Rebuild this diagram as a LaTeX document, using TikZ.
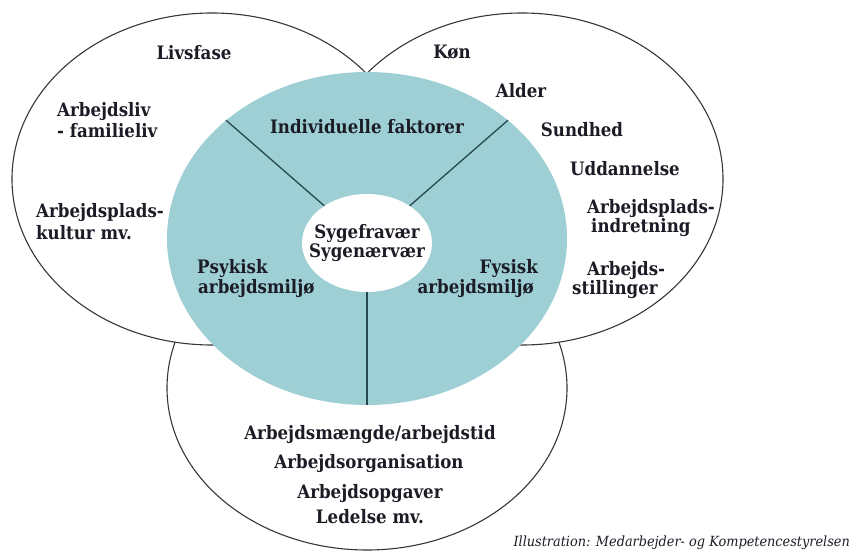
\documentclass[tikz,border=0pt]{standalone}
\usepackage{fontspec}
\usetikzlibrary{shapes.geometric}
\newfontfamily\lblfont{DejaVu Serif}[FakeStretch=0.9]
\newfontfamily\capfont{DejaVu Serif}[FakeStretch=0.92]
\definecolor{teal1}{RGB}{157,207,212}
\definecolor{divc}{RGB}{38,72,78}
\definecolor{outc}{RGB}{55,55,55}
\definecolor{txt}{RGB}{28,28,38}
\begin{document}
\begin{tikzpicture}[x=1pt,y=-1pt,
  outer/.style={draw=outc, fill=white, line width=1.1pt},
  divline/.style={draw=divc, line width=1.3pt},
  lbl/.style={font=\lblfont\bfseries\fontsize{18.5}{20}\selectfont, text=txt, inner sep=0pt},
  caption/.style={font=\capfont\itshape\fontsize{14}{16}\selectfont, text=txt, inner sep=0pt}]
\useasboundingbox (0,0) rectangle (853,553);
% outer ellipses (bottom first, so its upper part is hidden)
\draw[outer] (367,388) ellipse [x radius=200pt, y radius=162pt];
\draw[outer] (212,179) ellipse [x radius=200pt, y radius=166pt];
\draw[outer] (522,179) ellipse [x radius=201pt, y radius=166pt];
% teal ring and white core
\node[ellipse, fill=teal1, inner sep=0pt, minimum width=400pt, minimum height=333pt] (ring) at (367,238.5) {};
\node[ellipse, fill=white, inner sep=0pt, minimum width=130pt, minimum height=98pt] (core) at (367,243) {};
\draw[divline] (core) -- (ring.140);
\draw[divline] (core) -- (ring.40);
\draw[divline] (core) -- (ring.270);
% core text
\node[lbl, anchor=base] (s1) at (367,238) {Sygefravær};
\node[lbl, anchor=base] (s2) at (367,257) {Sygenærvær};
% ring texts
\node[lbl, anchor=base] (ind) at (367,134) {Individuelle faktorer};
\node[lbl, anchor=base west] (psy1) at (197,273) {Psykisk};
\node[lbl, anchor=base west] (psy2) at (198,293) {arbejdsmiljø};
\node[lbl, anchor=base east] (fys1) at (538,273) {Fysisk};
\node[lbl, anchor=base east] (fys2) at (534,293) {arbejdsmiljø};
% left ellipse texts
\node[lbl, anchor=base] (liv) at (194,60) {Livsfase};
\node[lbl, anchor=base west] (af1) at (57,117) {Arbejdsliv};
\node[lbl, anchor=base west] (af2) at (57,138) {- familieliv};
\node[lbl, anchor=base west] (ak1) at (36,218) {Arbejdsplads-};
\node[lbl, anchor=base west] (ak2) at (36,240) {kultur mv.};
% right ellipse texts
\node[lbl, anchor=base] (kon) at (452,59) {Køn};
\node[lbl, anchor=base] (ald) at (521,98) {Alder};
\node[lbl, anchor=base] (sun) at (582,137) {Sundhed};
\node[lbl, anchor=base] (udd) at (625,176) {Uddannelse};
\node[lbl, anchor=base west] (ai1) at (587,214) {Arbejdsplads-};
\node[lbl, anchor=base west] (ai2) at (591,233) {indretning};
\node[lbl, anchor=base west] (as1) at (587,275) {Arbejds-};
\node[lbl, anchor=base west] (as2) at (572,294) {stillinger};
% bottom ellipse texts
\node[lbl, anchor=base] (b1) at (370,439) {Arbejdsmængde/arbejdstid};
\node[lbl, anchor=base] (b2) at (369,468) {Arbejdsorganisation};
\node[lbl, anchor=base] (b3) at (370,498) {Arbejdsopgaver};
\node[lbl, anchor=base] (b4) at (370,523) {Ledelse mv.};
% caption
\node[caption, anchor=base east] (cap) at (850,546) {Illustration: Medarbejder- og Kompetencestyrelsen};
\end{tikzpicture}
\end{document}
